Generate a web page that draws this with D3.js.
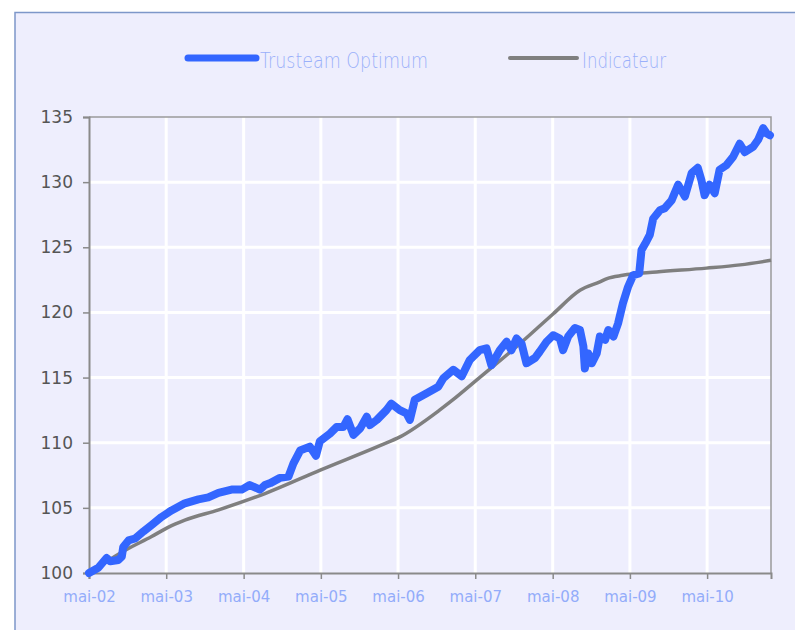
<!DOCTYPE html>
<html>
<head>
<meta charset="utf-8">
<script src="https://cdn.jsdelivr.net/npm/d3@7"></script>
<style>
  body { margin: 0; background: #ffffff; }
  svg { display: block; }
</style>
</head>
<body>
<svg id="chart"></svg>
<script>
// fund series (Trusteam Optimum)
const fundDates = [
  "2002-05-01","2002-06-14","2002-07-23","2002-08-09","2002-09-17","2002-10-03","2002-10-10","2002-11-04",
  "2002-12-05","2003-01-14","2003-02-22","2003-04-09","2003-05-26","2003-07-28","2003-09-30","2003-11-16",
  "2004-01-03","2004-03-05","2004-04-22","2004-05-30","2004-07-17","2004-08-10","2004-09-04","2004-10-20",
  "2004-11-29","2004-12-22","2005-01-23","2005-03-10","2005-04-08","2005-04-26","2005-06-13","2005-07-14",
  "2005-08-15","2005-09-04","2005-10-02","2005-11-03","2005-12-04","2005-12-19","2006-01-21","2006-03-07",
  "2006-03-30","2006-05-09","2006-06-10","2006-06-26","2006-07-19","2006-09-13","2006-11-07","2006-12-01",
  "2007-01-17","2007-02-26","2007-04-05","2007-05-22","2007-06-23","2007-07-16","2007-08-25","2007-09-26",
  "2007-10-19","2007-11-12","2007-12-06","2007-12-29","2008-02-07","2008-03-01","2008-04-02","2008-05-03",
  "2008-06-04","2008-06-19","2008-07-13","2008-08-14","2008-09-07","2008-09-23","2008-09-30","2008-10-16",
  "2008-11-02","2008-11-25","2008-12-10","2009-01-04","2009-01-19","2009-02-12","2009-03-06","2009-03-29",
  "2009-04-22","2009-05-16","2009-06-14","2009-06-25","2009-07-18","2009-08-03","2009-08-19","2009-09-20",
  "2009-10-13","2009-11-14","2009-12-15","2010-01-16","2010-02-17","2010-03-18","2010-04-04","2010-04-19",
  "2010-05-13","2010-06-06","2010-06-29","2010-07-31","2010-09-01","2010-10-02","2010-10-26","2010-12-04",
  "2010-12-28","2011-01-21","2011-02-06","2011-02-22"
];
const fundValues = [
  100.0,100.4,101.15,100.9,101.0,101.25,102.0,102.5,
  102.65,103.2,103.7,104.3,104.8,105.35,105.65,105.8,
  106.15,106.4,106.4,106.75,106.4,106.75,106.9,107.3,
  107.4,108.4,109.4,109.7,109.0,110.1,110.7,111.2,
  111.2,111.8,110.6,111.1,112.0,111.35,111.75,112.5,
  113.0,112.5,112.25,111.75,113.3,113.8,114.3,114.95,
  115.6,115.1,116.35,117.1,117.25,115.95,117.1,117.75,
  117.1,118.0,117.6,116.1,116.5,117.0,117.75,118.25,
  118.0,117.1,118.15,118.8,118.65,117.4,115.7,116.85,
  116.1,116.85,118.15,117.9,118.65,118.15,119.15,120.7,
  121.95,122.85,123.0,124.8,125.45,125.95,127.2,127.85,
  128.0,128.6,129.8,128.9,130.7,131.1,130.15,129.0,
  129.8,129.15,130.95,131.3,131.95,132.95,132.3,132.7,
  133.25,134.15,133.75,133.6
];

// benchmark series (Indicateur)
const indicDates = [
  "2002-05-01","2002-10-19","2003-02-21","2003-05-10","2003-07-28","2004-01-04","2004-08-10","2005-04-28",
  "2006-02-07","2006-05-10","2006-11-13","2007-01-16","2007-05-07","2007-11-28","2008-05-04","2008-09-07",
  "2008-12-10","2009-01-13","2009-03-28","2009-09-04","2010-04-28","2010-10-04","2011-02-27"
];
const indicValues = [
  100.0,101.75,102.8,103.5,104.05,104.85,106.1,107.9,
  109.8,110.45,112.5,113.3,114.8,117.6,119.9,121.7,
  122.35,122.6,122.85,123.1,123.4,123.65,124.0
];

const yTicks = [100, 105, 110, 115, 120, 125, 130, 135];
const xTickDates = ["2002-05-01","2003-05-01","2004-05-01","2005-05-01","2006-05-01","2007-05-01","2008-05-01","2009-05-01","2010-05-01"];
const xTickLabels = ["mai-02","mai-03","mai-04","mai-05","mai-06","mai-07","mai-08","mai-09","mai-10"];
const seriesNames = ["Trusteam Optimum", "Indicateur"];

const width = 795, height = 630;
const margin = { top: 117, right: 24, bottom: 57, left: 89 };
const parse = d3.timeParse("%Y-%m-%d");

const svg = d3.select("#chart").attr("width", width).attr("height", height);

// panel background + frame
svg.append("rect")
  .attr("x", 15).attr("y", 12.5)
  .attr("width", width).attr("height", height)
  .attr("fill", "#eeeefd")
  .attr("stroke", "#7d97c9")
  .attr("stroke-width", 1.5);

const x = d3.scaleTime()
  .domain([parse("2002-05-01"), parse("2011-02-27")])
  .range([margin.left, width - margin.right]);
const y = d3.scaleLinear()
  .domain([100, 135])
  .range([height - margin.bottom, margin.top]);

const fund = fundDates.map((d, i) => ({ date: parse(d), value: fundValues[i] }));
const indic = indicDates.map((d, i) => ({ date: parse(d), value: indicValues[i] }));

// grid lines (white)
svg.append("g")
  .selectAll("line")
  .data(yTicks.slice(1, -1))
  .join("line")
  .attr("x1", margin.left).attr("x2", width - margin.right)
  .attr("y1", d => y(d)).attr("y2", d => y(d))
  .attr("stroke", "#ffffff").attr("stroke-width", 3);

svg.append("g")
  .selectAll("line")
  .data(xTickDates.slice(1))
  .join("line")
  .attr("x1", d => x(parse(d))).attr("x2", d => x(parse(d)))
  .attr("y1", margin.top).attr("y2", height - margin.bottom)
  .attr("stroke", "#ffffff").attr("stroke-width", 3);

// frame top + right
svg.append("path")
  .attr("d", `M${margin.left},${margin.top}H${width - margin.right}V${height - margin.bottom}`)
  .attr("fill", "none")
  .attr("stroke", "#9a9a9a")
  .attr("stroke-width", 1.5);

// y axis
const yAxis = svg.append("g")
  .attr("transform", `translate(${margin.left},0)`)
  .call(d3.axisLeft(y).tickValues(yTicks).tickSize(6).tickPadding(10).tickFormat(d3.format("d")));
yAxis.select(".domain").attr("stroke", "#8a8a8a").attr("stroke-width", 2);
yAxis.selectAll(".tick line").attr("stroke", "#8a8a8a").attr("stroke-width", 1.5);
yAxis.selectAll("text")
  .style("font-family", "DejaVu Sans, sans-serif")
  .style("font-size", "17px")
  .attr("fill", "#555555");

// x axis
const xAxis = svg.append("g")
  .attr("transform", `translate(0,${height - margin.bottom})`)
  .call(d3.axisBottom(x)
    .tickValues(xTickDates.map(parse))
    .tickSize(6).tickPadding(12)
    .tickFormat((d, i) => xTickLabels[i]));
xAxis.select(".domain").attr("stroke", "#8a8a8a").attr("stroke-width", 2);
xAxis.selectAll(".tick line").attr("stroke", "#8a8a8a").attr("stroke-width", 1.5);
xAxis.selectAll("text")
  .style("font-family", "DejaVu Sans, sans-serif")
  .style("font-size", "15px")
  .attr("fill", "#93acfa");

// lines
const line = d3.line().x(d => x(d.date)).y(d => y(d.value));

svg.append("path")
  .datum(indic)
  .attr("fill", "none")
  .attr("stroke", "#7f7f7f")
  .attr("stroke-width", 3.5)
  .attr("d", line.curve(d3.curveMonotoneX));

svg.append("path")
  .datum(fund)
  .attr("fill", "none")
  .attr("stroke", "#3366ff")
  .attr("stroke-width", 8)
  .attr("stroke-linejoin", "round")
  .attr("stroke-linecap", "round")
  .attr("d", line.curve(d3.curveLinear));

// legend
const legend = [
  { name: seriesNames[0], color: "#3366ff", w: 7, x0: 188, x1: 256, tx: 260, tw: 168 },
  { name: seriesNames[1], color: "#7f7f7f", w: 4, x0: 510, x1: 577, tx: 582, tw: 84 }
];
const lg = svg.append("g").selectAll("g").data(legend).join("g");
lg.append("line")
  .attr("x1", d => d.x0).attr("x2", d => d.x1)
  .attr("y1", 58).attr("y2", 58)
  .attr("stroke", d => d.color)
  .attr("stroke-width", d => d.w)
  .attr("stroke-linecap", "round");
lg.append("text")
  .attr("x", d => d.tx).attr("y", 68)
  .attr("textLength", d => d.tw)
  .attr("lengthAdjust", "spacingAndGlyphs")
  .style("font-family", "DejaVu Sans, sans-serif")
  .style("font-weight", 200)
  .style("font-size", "22px")
  .attr("fill", "#9ab0fa")
  .text(d => d.name);
</script>
</body>
</html>
